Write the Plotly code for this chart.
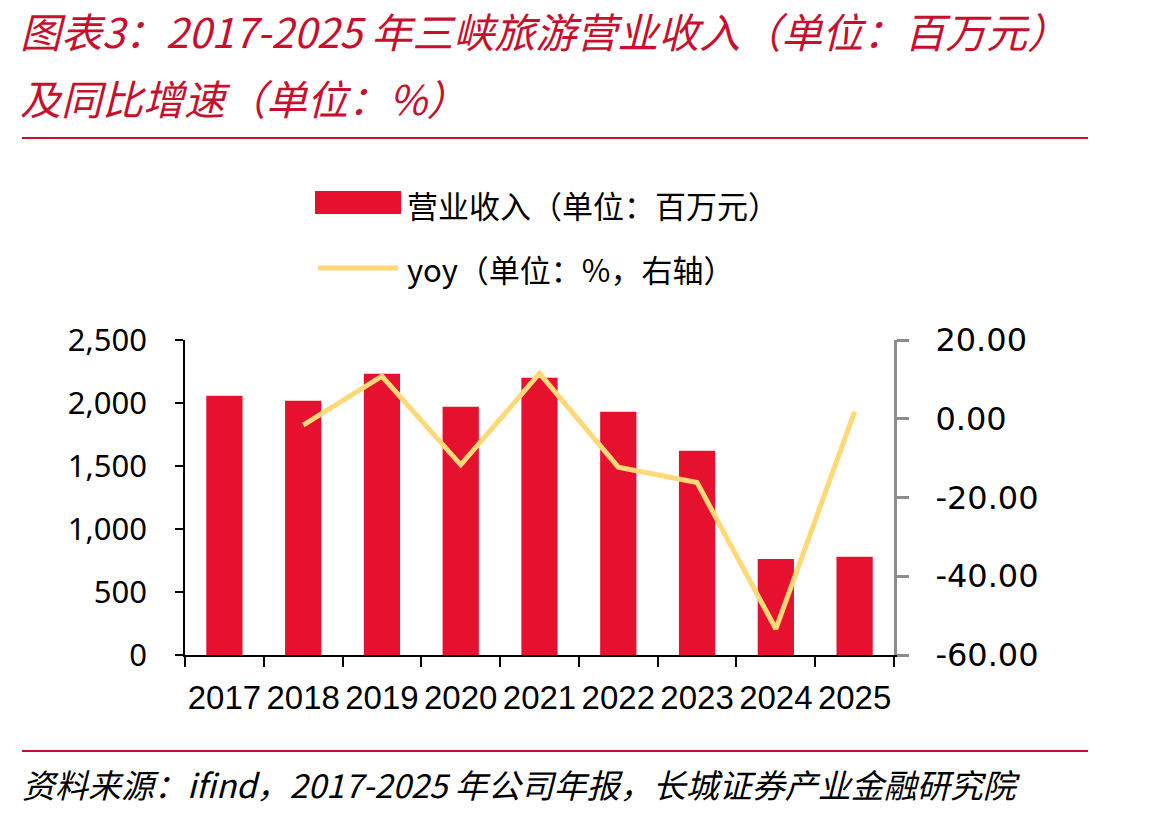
import plotly.graph_objects as go

years = ["2017", "2018", "2019", "2020", "2021", "2022", "2023", "2024", "2025"]
revenue = [2058, 2018, 2233, 1971, 2201, 1931, 1621, 762, 780]
yoy = [None, -1.6, 10.8, -11.7, 11.5, -12.3, -16.2, -53.4, 1.8]

left_ticks = [0, 500, 1000, 1500, 2000, 2500]
right_ticks = [-60, -40, -20, 0, 20]
right_tick_text = ["-60.00", "-40.00", "-20.00", "0.00", "20.00"]

title_line1 = "图表3：2017-2025 年三峡旅游营业收入（单位：百万元）"
title_line2 = "及同比增速（单位：%）"
source_text = "资料来源：ifind，2017-2025 年公司年报，长城证券产业金融研究院"
bar_name = "营业收入（单位：百万元）"
line_name = "yoy（单位：%，右轴）"

BAR_COLOR = "#E5112E"
LINE_COLOR = "#FFD878"
RED = "#C8102E"
CJK = "Noto Sans CJK SC"

W, H = 1149, 816
L, R, T, B = 185, 894, 340, 655


def px(x):
    return (x - L) / (R - L)


def py(y):
    return (B - y) / (B - T)


fig = go.Figure()
fig.add_trace(go.Bar(x=years, y=revenue, name=bar_name, marker=dict(color=BAR_COLOR, line=dict(width=0)),
                     width=0.46, showlegend=False))
fig.add_trace(go.Scatter(x=years, y=yoy, name=line_name, mode="lines", yaxis="y2",
                         line=dict(color=LINE_COLOR, width=5), showlegend=False, connectgaps=False))

shapes = [
    dict(type="line", xref="paper", yref="paper", x0=px(22), x1=px(1088), y0=py(138), y1=py(138),
         line=dict(color=RED, width=2)),
    dict(type="line", xref="paper", yref="paper", x0=px(22), x1=px(1088), y0=py(751), y1=py(751),
         line=dict(color=RED, width=2)),
    # legend symbols
    dict(type="rect", xref="paper", yref="paper", x0=px(315), x1=px(401), y0=py(214), y1=py(191),
         fillcolor=BAR_COLOR, line=dict(width=0)),
    dict(type="line", xref="paper", yref="paper", x0=px(318), x1=px(398), y0=py(268), y1=py(268),
         line=dict(color=LINE_COLOR, width=5)),
]

annotations = [
    dict(text="<i>" + title_line1 + "</i>", xref="paper", yref="paper", x=px(18), y=py(30),
         xanchor="left", yanchor="middle", showarrow=False, font=dict(family=CJK, size=41, color=RED)),
    dict(text="<i>" + title_line2 + "</i>", xref="paper", yref="paper", x=px(18), y=py(97),
         xanchor="left", yanchor="middle", showarrow=False, font=dict(family=CJK, size=41, color=RED)),
    dict(text="<i>" + source_text + "</i>", xref="paper", yref="paper", x=px(20), y=py(784),
         xanchor="left", yanchor="middle", showarrow=False, font=dict(family=CJK, size=33, color="#000000")),
    dict(text=bar_name, xref="paper", yref="paper", x=px(405), y=py(204), xanchor="left", yanchor="middle",
         showarrow=False, font=dict(family=CJK, size=31, color="#000000")),
    dict(text=line_name, xref="paper", yref="paper", x=px(405), y=py(268), xanchor="left", yanchor="middle",
         showarrow=False, font=dict(family=CJK, size=31, color="#000000")),
]

fig.update_layout(
    width=W, height=H,
    margin=dict(l=L, r=W - R, t=T, b=H - B, pad=0),
    paper_bgcolor="white", plot_bgcolor="white",
    bargap=0.54,
    shapes=shapes, annotations=annotations,
    font=dict(family="Noto Sans", color="#000000"),
    xaxis=dict(type="category", showline=True, linecolor="#000000", linewidth=1.5, tickangle=0,
               ticks="outside", ticklen=10, tickwidth=1.5, tickcolor="#000000", tickson="boundaries",
               tickfont=dict(family="Liberation Sans", size=33, color="#000000"),
               showgrid=False, zeroline=False, ticklabelstandoff=13),
    yaxis=dict(range=[0, 2500], tickvals=left_ticks, tickformat=",", showline=True, linecolor="#000000",
               linewidth=1.5, ticks="outside", ticklen=8, tickwidth=1.5, tickcolor="#000000",
               tickfont=dict(family="Noto Sans", size=31, color="#000000"),
               showgrid=False, zeroline=False, ticklabelstandoff=22),
    yaxis2=dict(range=[-60, 20], tickvals=right_ticks, ticktext=right_tick_text, overlaying="y", side="right",
                showline=True, linecolor="#8C8C8C", linewidth=3,
                ticks="outside", ticklen=12, tickwidth=2.5, tickcolor="#8C8C8C",
                tickfont=dict(family="DejaVu Sans", size=32, color="#000000"),
                showgrid=False, zeroline=False, ticklabelstandoff=20),
)

fig.write_html("out.html")
